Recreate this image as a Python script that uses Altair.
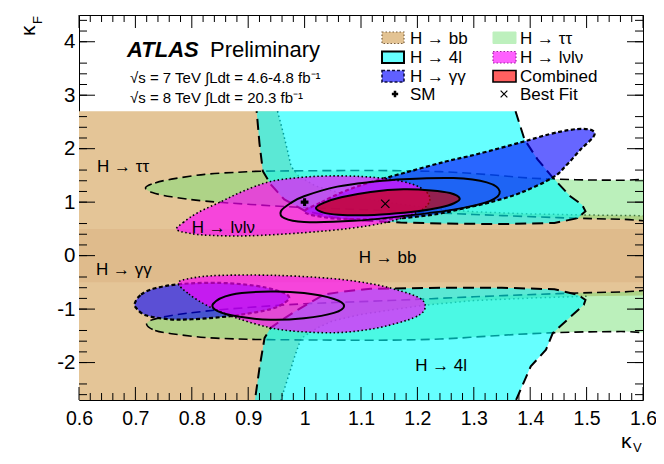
import altair as alt
import pandas as pd

FONT = "Liberation Sans"

X_DOMAIN = [0.6, 1.6]
Y_DOMAIN = [-2.7, 4.5]
X_MAJOR = [0.6, 0.7, 0.8, 0.9, 1.0, 1.1, 1.2, 1.3, 1.4, 1.5, 1.6]
Y_MAJOR = [-2, -1, 0, 1, 2, 3, 4]
X_MINOR = [round(0.6 + 0.02 * i, 2) for i in range(51) if i % 5]
Y_MINOR = [round(-2.6 + 0.2 * i, 1) for i in range(36) if (i + 3) % 5]

# H -> bb (outer region and inner band)
BB_OUT_X = [0.55, 0.952, 0.962, 0.970, 0.976, 0.99, 1.02, 1.08, 1.15, 1.22, 1.30, 1.40, 1.50, 1.65,
            1.65, 1.50, 1.41, 1.30, 1.21, 1.15, 1.10, 1.05, 1.023, 1.00, 0.993, 0.982, 0.970, 0.958, 0.55]
BB_OUT_Y = [2.7, 2.7, 2.3, 1.95, 1.67, 1.48, 1.30, 1.12, 0.99, 0.89, 0.82, 0.78, 0.76, 0.74,
            -0.74, -0.76, -0.79, -0.84, -0.93, -1.02, -1.10, -1.22, -1.35, -1.50, -1.57, -1.90, -2.30, -2.7, -2.7]
BB_BAND_X = [0.55, 1.65, 1.65, 0.55]
BB_BAND_Y = [0.5, 0.5, -0.5, -0.5]

# H -> tautau
TT_TOP_X = [0.718, 0.735, 0.764, 0.823, 0.882, 0.93, 1.05, 1.15, 1.24, 1.32, 1.40, 1.48, 1.56, 1.70,
            1.70, 1.56, 1.45, 1.30, 1.15, 1.00, 0.90, 0.823, 0.764, 0.73]
TT_TOP_Y = [1.27, 1.36, 1.43, 1.52, 1.56, 1.58, 1.59, 1.59, 1.57, 1.52, 1.45, 1.42, 1.41, 1.40,
            0.66, 0.68, 0.71, 0.77, 0.84, 0.90, 0.96, 1.02, 1.10, 1.18]
TT_BOT_X = [0.72, 0.735, 0.764, 0.823, 0.882, 0.93, 1.05, 1.15, 1.24, 1.32, 1.40, 1.48, 1.56, 1.70,
            1.70, 1.56, 1.45, 1.30, 1.15, 1.00, 0.90, 0.823, 0.764, 0.73]
TT_BOT_Y = [-1.29, -1.40, -1.46, -1.53, -1.56, -1.57, -1.58, -1.58, -1.56, -1.51, -1.46, -1.43, -1.42, -1.41,
            -0.66, -0.68, -0.71, -0.77, -0.84, -0.90, -0.97, -1.04, -1.12, -1.20]

# H -> 4l
FL_TOP_X = [1.374, 1.39, 1.413, 1.44, 1.471, 1.492, 1.498, 1.484, 1.443, 1.35, 1.25, 1.17, 1.10, 1.05,
            1.00, 0.964, 0.94, 0.926, 0.92, 0.915]
FL_TOP_Y = [2.7, 2.17, 1.80, 1.46, 1.11, 0.95, 0.83, 0.70, 0.61, 0.59, 0.60, 0.62, 0.66, 0.72,
            0.84, 1.05, 1.33, 1.58, 2.10, 2.7]
FL_BOT_X = [1.375, 1.401, 1.428, 1.44, 1.472, 1.495, 1.498, 1.484, 1.443, 1.35, 1.25, 1.117, 1.07, 1.034,
            0.99, 0.96, 0.94, 0.929, 0.92, 0.912]
FL_BOT_Y = [-2.7, -2.07, -1.76, -1.45, -1.14, -0.92, -0.83, -0.73, -0.63, -0.60, -0.60, -0.62, -0.67, -0.73,
            -1.00, -1.20, -1.35, -1.54, -2.10, -2.7]

# H -> gammagamma
GG_TOP_X = [1.00, 1.03, 1.07, 1.113, 1.181, 1.25, 1.307, 1.384, 1.434, 1.47, 1.495, 1.512, 1.512, 1.489,
            1.465, 1.44, 1.384, 1.33, 1.28, 1.237, 1.17, 1.10, 1.04]
GG_TOP_Y = [0.82, 1.00, 1.20, 1.36, 1.56, 1.76, 1.90, 2.12, 2.27, 2.35, 2.37, 2.33, 2.22, 1.98,
            1.70, 1.46, 1.18, 1.00, 0.88, 0.78, 0.70, 0.68, 0.71]
GG_BOT_X = [0.699, 0.71, 0.735, 0.782, 0.85, 0.91, 0.95, 0.972, 0.965, 0.94, 0.89, 0.852, 0.80, 0.76, 0.72, 0.703]
GG_BOT_Y = [-0.89, -0.73, -0.61, -0.53, -0.51, -0.56, -0.65, -0.76, -0.88, -1.00, -1.10, -1.15, -1.19, -1.19, -1.12, -1.00]

# H -> lvlv
LL_TOP_X = [0.773, 0.785, 0.81, 0.85, 0.89, 0.937, 0.99, 1.043, 1.10, 1.15, 1.19, 1.215, 1.222, 1.21,
            1.18, 1.14, 1.08, 1.00, 0.90, 0.83, 0.795]
LL_TOP_Y = [0.49, 0.62, 0.80, 1.00, 1.20, 1.38, 1.46, 1.49, 1.48, 1.43, 1.34, 1.20, 1.04, 0.87,
            0.73, 0.61, 0.51, 0.43, 0.37, 0.38, 0.42]
LL_BOT_X = [0.776, 0.795, 0.83, 0.88, 0.94, 0.99, 1.058, 1.12, 1.175, 1.205, 1.214, 1.205, 1.17, 1.12,
            1.05, 0.95, 0.85, 0.80]
LL_BOT_Y = [-0.51, -0.72, -0.95, -1.17, -1.35, -1.42, -1.44, -1.37, -1.23, -1.10, -0.95, -0.80, -0.66, -0.53,
            -0.43, -0.37, -0.37, -0.42]

# Combined
CB_IN_X = [1.02, 1.035, 1.065, 1.117, 1.175, 1.225, 1.258, 1.275, 1.265, 1.24, 1.20, 1.15, 1.10, 1.06, 1.035]
CB_IN_Y = [0.89, 0.99, 1.09, 1.19, 1.24, 1.22, 1.17, 1.07, 0.98, 0.90, 0.83, 0.78, 0.755, 0.765, 0.80]
CB_OUT_X = [0.958, 0.975, 0.999, 1.058, 1.12, 1.175, 1.264, 1.323, 1.346, 1.328, 1.264, 1.175, 1.087, 0.999, 0.964]
CB_OUT_Y = [0.83, 0.98, 1.11, 1.29, 1.38, 1.43, 1.45, 1.37, 1.20, 1.02, 0.86, 0.74, 0.65, 0.63, 0.70]
CB_LOW_X = [0.838, 0.87, 0.94, 0.999, 1.052, 1.07, 1.052, 0.999, 0.94, 0.882, 0.846]
CB_LOW_Y = [-0.90, -0.73, -0.67, -0.70, -0.81, -0.94, -1.07, -1.17, -1.20, -1.14, -1.04]

SM_POINT = (1.0, 1.0)
BEST_FIT = (1.143, 0.97)

CHANNEL_LABELS = ["H \u2192 \u03c4\u03c4", "H \u2192 \u03b3\u03b3", "H \u2192 l\u03bdl\u03bd", "H \u2192 bb", "H \u2192 4l"]
CHANNEL_LABEL_X = [0.632, 0.630, 0.80, 1.096, 1.196]
CHANNEL_LABEL_Y = [1.57, -0.36, 0.42, -0.13, -2.15]

# ---------------------------------------------------------------
W, H = 564, 385
L0, T0 = 79, 15  # page position of the plot area

xsc = alt.Scale(domain=X_DOMAIN, nice=False, zero=False)
ysc = alt.Scale(domain=Y_DOMAIN, nice=False, zero=False)
XAX = alt.Axis(values=X_MAJOR, labelExpr="replace(format(datum.value, '~g'), '\u2212', '-')",
               ticks=False, domain=False, grid=False, labelFont=FONT, labelFontSize=19.5,
               labelColor="black", labelPadding=9, title="", labelFlush=False, labelOverlap=False)
YAX = alt.Axis(values=Y_MAJOR, labelExpr="replace(format(datum.value, '~g'), '\u2212', '-')",
               ticks=False, domain=False, grid=False, labelFont=FONT, labelFontSize=20.5,
               labelColor="black", labelPadding=4, title="", labelOverlap=False)


def X(f="x"):
    return alt.X(f"{f}:Q", scale=xsc, axis=XAX)


def Y(f="y"):
    return alt.Y(f"{f}:Q", scale=ysc, axis=YAX)


def poly(px, py, interp, **mk):
    df = pd.DataFrame({"x": px, "y": py, "i": list(range(len(px)))})
    return alt.Chart(df).mark_line(interpolate=interp, clip=True, **mk).encode(
        x=X(), y=Y(), order=alt.Order("i:Q"))


ONE = pd.DataFrame({"a": [0]})


def ptext(txt, px, py, size, **kw):
    return alt.Chart(ONE).mark_text(text=txt, font=FONT, fontSize=size, color="black",
                                    align=kw.pop("align", "left"), baseline=kw.pop("baseline", "alphabetic"),
                                    **kw).encode(x=alt.value(px - L0), y=alt.value(py - T0))


def prect(x1, y1, x2, y2, **mk):
    return alt.Chart(ONE).mark_rect(**mk).encode(
        x=alt.value(x1 - L0), x2=alt.value(x2 - L0), y=alt.value(y1 - T0), y2=alt.value(y2 - T0))


layers = []
# bb
layers.append(poly(BB_OUT_X, BB_OUT_Y, "linear-closed", fill="#e4c597", fillOpacity=1, strokeOpacity=0))
layers.append(poly(BB_BAND_X, BB_BAND_Y, "linear-closed", fill="#dfbb8c", fillOpacity=1, strokeOpacity=0))
layers.append(poly(BB_OUT_X[1:14], BB_OUT_Y[1:14], "linear", stroke="black", strokeWidth=1.5, strokeDash=[1.5, 3]))
layers.append(poly(BB_OUT_X[15:28], BB_OUT_Y[15:28], "linear", stroke="black", strokeWidth=1.5, strokeDash=[1.5, 3]))
# tautau
for xx, yy in [(TT_TOP_X, TT_TOP_Y), (TT_BOT_X, TT_BOT_Y)]:
    layers.append(poly(xx, yy, "cardinal-closed", fill="#78e178", fillOpacity=0.5,
                       stroke="black", strokeWidth=1.6, strokeDash=[9, 5]))
# 4l
for xx, yy in [(FL_TOP_X, FL_TOP_Y), (FL_BOT_X, FL_BOT_Y)]:
    layers.append(poly(xx, yy, "linear-closed", fill="#00ffff", fillOpacity=0.6, strokeOpacity=0))
    layers.append(poly(xx, yy, "linear", stroke="black", strokeWidth=2, strokeDash=[11, 6]))
# gammagamma
for xx, yy in [(GG_TOP_X, GG_TOP_Y), (GG_BOT_X, GG_BOT_Y)]:
    layers.append(poly(xx, yy, "cardinal-closed", fill="#0000ff", fillOpacity=0.6,
                       stroke="black", strokeWidth=2.2, strokeDash=[4, 2.5]))
# lvlv
for xx, yy in [(LL_TOP_X, LL_TOP_Y), (LL_BOT_X, LL_BOT_Y)]:
    layers.append(poly(xx, yy, "cardinal-closed", fill="#ff00ff", fillOpacity=0.65,
                       stroke="black", strokeWidth=1.6, strokeDash=[1.5, 2.5]))
# combined
layers.append(poly(CB_IN_X, CB_IN_Y, "cardinal-closed", fill="#cc0000", fillOpacity=0.68,
                   stroke="black", strokeWidth=2))
layers.append(poly(CB_OUT_X, CB_OUT_Y, "cardinal-closed", stroke="black", strokeWidth=2))
layers.append(poly(CB_LOW_X, CB_LOW_Y, "cardinal-closed", stroke="black", strokeWidth=2))

# markers
layers.append(alt.Chart(pd.DataFrame({"x": [SM_POINT[0]], "y": [SM_POINT[1]]})).mark_point(
    shape="cross", filled=True, color="black", size=60, opacity=1).encode(x=X(), y=Y()))
layers.append(alt.Chart(pd.DataFrame({"x": [BEST_FIT[0]], "y": [BEST_FIT[1]]})).mark_point(
    shape="M-1,-1L1,1M-1,1L1,-1", filled=False, stroke="black", strokeWidth=1.2, size=70, opacity=1).encode(x=X(), y=Y()))

# channel labels
lab = pd.DataFrame({"x": CHANNEL_LABEL_X, "y": CHANNEL_LABEL_Y, "t": CHANNEL_LABELS})
layers.append(alt.Chart(lab).mark_text(font=FONT, fontSize=17, color="black", align="left",
                                       baseline="alphabetic").encode(x=X(), y=Y(), text="t:N"))


# ticks
def xticks(vals, ln):
    d = pd.DataFrame({"v": vals})
    return [alt.Chart(d).mark_rule(color="black", strokeWidth=1).encode(x=X("v"), y=alt.value(H), y2=alt.value(H - ln)),
            alt.Chart(d).mark_rule(color="black", strokeWidth=1).encode(x=X("v"), y=alt.value(0), y2=alt.value(ln))]


def yticks(vals, ln):
    d = pd.DataFrame({"v": vals})
    return [alt.Chart(d).mark_rule(color="black", strokeWidth=1).encode(y=Y("v"), x=alt.value(0), x2=alt.value(ln)),
            alt.Chart(d).mark_rule(color="black", strokeWidth=1).encode(y=Y("v"), x=alt.value(W), x2=alt.value(W - ln))]


layers += xticks(X_MAJOR, 13) + xticks(X_MINOR, 7) + yticks(Y_MAJOR, 16) + yticks(Y_MINOR, 8)

# ATLAS texts
layers.append(ptext("ATLAS", 127, 57, 22, fontStyle="italic", fontWeight="bold"))
layers.append(ptext("Preliminary", 210, 57, 22))
layers.append(ptext("\u221as = 7 TeV \u222bLdt = 4.6-4.8 fb\u207b\u00b9", 130, 83, 15))
layers.append(ptext("\u221as = 8 TeV \u222bLdt = 20.3 fb\u207b\u00b9", 130, 103, 15))

# legend
layers.append(prect(382, 32, 404, 43.5, fill="#e3c393", stroke="#7a6040", strokeWidth=1.2, strokeDash=[1.5, 2]))
layers.append(prect(382, 51.5, 404, 63, fill="#66ffff", stroke="black", strokeWidth=2))
layers.append(prect(382, 70.5, 404, 82, fill="#6060ff", stroke="#101040", strokeWidth=1.6, strokeDash=[3, 2]))
layers.append(prect(493, 32, 516, 43.5, fill="#bdf0bd", stroke="#bdf0bd", strokeWidth=1))
layers.append(prect(493, 51.5, 516, 63, fill="#ff60ff", stroke="#a020a0", strokeWidth=1.2, strokeDash=[1.5, 2]))
layers.append(prect(493, 70.5, 516, 82, fill="#ff6060", stroke="black", strokeWidth=1.6))
LEG = 17
layers.append(ptext("H \u2192 bb", 410, 44, LEG))
layers.append(ptext("H \u2192 4l", 410, 63, LEG))
layers.append(ptext("H \u2192 \u03b3\u03b3", 410, 81.5, LEG))
layers.append(ptext("SM", 410, 100, LEG))
layers.append(ptext("H \u2192 \u03c4\u03c4", 520, 44, LEG))
layers.append(ptext("H \u2192 l\u03bdl\u03bd", 520, 63, LEG))
layers.append(ptext("Combined", 520, 81.5, LEG))
layers.append(ptext("Best Fit", 520, 100, LEG))
layers.append(alt.Chart(ONE).mark_point(shape="cross", filled=True, color="black", size=40, opacity=1).encode(
    x=alt.value(395 - L0), y=alt.value(94 - T0)))
layers.append(alt.Chart(ONE).mark_point(shape="M-1,-1L1,1M-1,1L1,-1", filled=False, stroke="black",
                                        strokeWidth=1.2, size=45, opacity=1).encode(
    x=alt.value(504 - L0), y=alt.value(94 - T0)))

# axis titles
layers.append(ptext("\u03ba", 35, 36, 21, angle=270))
layers.append(ptext("F", 42, 24, 13, angle=270))
layers.append(ptext("\u03ba", 621, 448, 21))
layers.append(ptext("V", 633, 452, 13))

chart = alt.layer(*layers).properties(
    width=W, height=H,
    autosize=alt.AutoSizeParams(type="none"),
    padding={"left": L0 - 8, "top": T0 - 8, "right": 664 - 8 - L0 - W, "bottom": 464 - 8 - T0 - H},
    background="white",
).configure_view(stroke="black", strokeWidth=1)

chart.save("out.html", embed_options={"renderer": "svg", "actions": False})
